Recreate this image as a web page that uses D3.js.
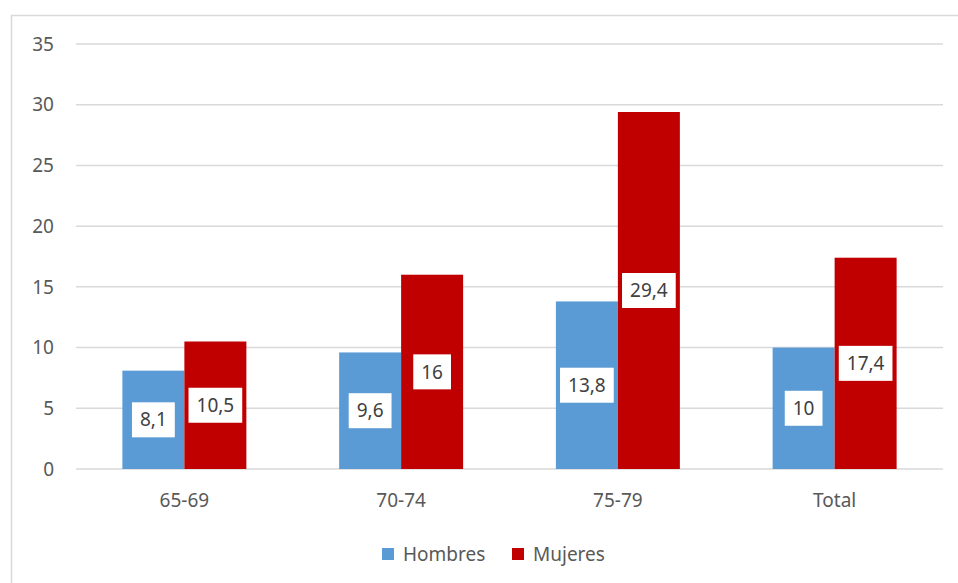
<!DOCTYPE html>
<html><head><meta charset="utf-8">
<script src="https://cdn.jsdelivr.net/npm/d3@7"></script>
<style>body{margin:0;background:#fff}svg{display:block}text{font-family:"Noto Sans","Open Sans",sans-serif}</style>
</head><body><svg id="c" width="958" height="583"></svg>
<script>
const categories = ["65-69","70-74","75-79","Total"];
const seriesNames = ["Hombres","Mujeres"];
const hombres = [8.1, 9.6, 13.8, 10];
const mujeres = [10.5, 16, 29.4, 17.4];
const yTicks = [0,5,10,15,20,25,30,35];
const colors = ["#5b9bd5","#c00000"];

(function(){
const svg = d3.select("#c");
svg.append("rect").attr("x",11.5).attr("y",15.5).attr("width",960).attr("height",600)
  .attr("fill","none").attr("stroke","#d9d9d9").attr("stroke-width",1.5);

const pL=76, pR=943, pT=44, pB=469;
const y = d3.scaleLinear().domain([0,35]).range([pB,pT]);
const x0 = d3.scaleBand().domain(categories).range([pL,pR]).paddingInner(0.428).paddingOuter(0.214);
const x1 = d3.scaleBand().domain(seriesNames).range([0,x0.bandwidth()]);

svg.append("g").selectAll("line").data(yTicks).join("line")
  .attr("x1",pL).attr("x2",pR).attr("y1",d=>y(d)).attr("y2",d=>y(d))
  .attr("stroke","#d9d9d9").attr("stroke-width",1.5);

svg.append("g").selectAll("text").data(yTicks).join("text")
  .attr("x",54).attr("y",d=>y(d)).attr("dy","0.35em").attr("text-anchor","end")
  .attr("font-size",19).attr("fill","#595959").text(d=>d);

const fmt = v => String(v).replace(".", ",");
const series = [hombres, mujeres];
series.forEach((vals,si)=>{
  const g = svg.append("g");
  g.selectAll("rect").data(vals).join("rect")
    .attr("x",(d,i)=>x0(categories[i])+x1(seriesNames[si]))
    .attr("y",d=>y(d)).attr("width",x1.bandwidth()).attr("height",d=>y(0)-y(d))
    .attr("fill",colors[si]);
});
series.forEach((vals,si)=>{
  const lab = svg.append("g").selectAll("g").data(vals).join("g")
    .attr("transform",(d,i)=>`translate(${x0(categories[i])+x1(seriesNames[si])+x1.bandwidth()/2},${(y(d)+y(0))/2})`);
  lab.each(function(d){
    const gg = d3.select(this);
    const t = gg.append("text").attr("text-anchor","middle").attr("dy","0.35em")
      .attr("font-size",19).attr("fill","#404040").text(fmt(d));
    const w = t.node().getComputedTextLength();
    gg.insert("rect","text").attr("x",-w/2-8).attr("y",-17.5).attr("width",w+16).attr("height",35).attr("fill","#fff");
  });
});

svg.append("g").selectAll("text").data(categories).join("text")
  .attr("x",d=>x0(d)+x0.bandwidth()/2).attr("y",500).attr("dy","0.35em").attr("text-anchor","middle")
  .attr("font-size",19).attr("fill","#595959").text(d=>d);

const legX = [382, 512];
const leg = svg.append("g").selectAll("g").data(seriesNames).join("g")
  .attr("transform",(d,i)=>`translate(${legX[i]},548)`);
leg.append("rect").attr("width",12).attr("height",12).attr("fill",(d,i)=>colors[i]);
leg.append("text").attr("x",21).attr("y",6).attr("dy","0.35em").attr("font-size",19).attr("fill","#595959").text(d=>d);
})();
</script></body></html>
